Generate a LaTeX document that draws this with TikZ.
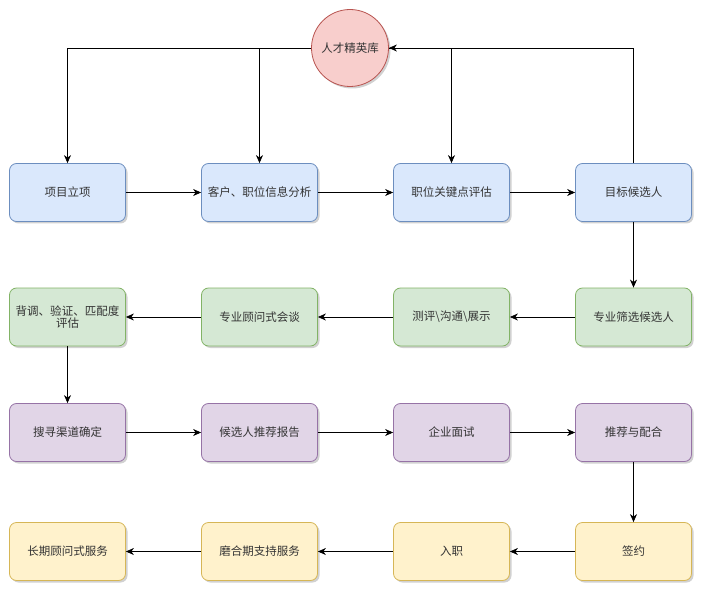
\documentclass[tikz,border=0pt]{standalone}
\usepackage{fontspec}
\setmainfont{Noto Sans CJK SC}
\usetikzlibrary{arrows.meta,shadows,positioning}
\definecolor{bfill}{HTML}{DAE8FC}\definecolor{bline}{HTML}{6C8EBF}
\definecolor{gfill}{HTML}{D5E8D4}\definecolor{gline}{HTML}{82B366}
\definecolor{pfill}{HTML}{E1D5E7}\definecolor{pline}{HTML}{9673A6}
\definecolor{yfill}{HTML}{FFF2CC}\definecolor{yline}{HTML}{D6B656}
\definecolor{rfill}{HTML}{F8CECC}\definecolor{rline}{HTML}{B85450}
\definecolor{txt}{HTML}{333333}
\tikzset{
  box/.style={rectangle, rounded corners=7pt, minimum width=116pt, minimum height=58pt,
    line width=0.8pt, align=center, text=txt, font=\fontsize{11.5}{14}\selectfont,
    drop shadow={shadow xshift=2pt, shadow yshift=-2pt, fill=black, opacity=0.18}},
  bluebox/.style={box, fill=bfill, draw=bline},
  greenbox/.style={box, fill=gfill, draw=gline},
  purplebox/.style={box, fill=pfill, draw=pline},
  yellowbox/.style={box, fill=yfill, draw=yline},
  conn/.style={line width=0.8pt, -{Stealth[length=8pt,width=7pt,inset=2.5pt]}},
  plain/.style={line width=0.8pt}
}
\begin{document}
\begin{tikzpicture}[x=1pt,y=-1pt]
\useasboundingbox (0,0) rectangle (703,593);
% nodes
\node[circle, minimum size=77pt, inner sep=0pt, fill=rfill, draw=rline, line width=0.8pt, text=txt,
  font=\fontsize{11.5}{14}\selectfont,
  drop shadow={shadow xshift=2pt, shadow yshift=-2pt, fill=black, opacity=0.18}] (db) at (350,48) {人才精英库};

\node[bluebox] (a1) at (67.5,192.5) {项目立项};
\node[bluebox] (a2) at (259.5,192.5) {客户、职位信息分析};
\node[bluebox] (a3) at (451.5,192.5) {职位关键点评估};
\node[bluebox] (a4) at (633.5,192.5) {目标候选人};

\node[greenbox] (b1) at (67.5,317) {背调、验证、匹配度\\[-2pt]评估};
\node[greenbox] (b2) at (259.5,317) {专业顾问式会谈};
\node[greenbox] (b3) at (451.5,317) {测评\textbackslash 沟通\textbackslash 展示};
\node[greenbox] (b4) at (633.5,317) {专业筛选候选人};

\node[purplebox] (c1) at (67.5,432.5) {搜寻渠道确定};
\node[purplebox] (c2) at (259.5,432.5) {候选人推荐报告};
\node[purplebox] (c3) at (451.5,432.5) {企业面试};
\node[purplebox] (c4) at (633.5,432.5) {推荐与配合};

\node[yellowbox] (d1) at (67.5,551.5) {长期顾问式服务};
\node[yellowbox] (d2) at (259.5,551.5) {磨合期支持服务};
\node[yellowbox] (d3) at (451.5,551.5) {入职};
\node[yellowbox] (d4) at (633.5,551.5) {签约};

% circle connections
\draw[conn] (db.west) -| (a1.north);
\draw[conn] (db.west) -| (a2.north);
\draw[conn] (db.east) -| (a3.north);
\draw[conn] (a4.north) |- (db.east);

% row 1
\draw[conn] (a1) -- (a2);
\draw[conn] (a2) -- (a3);
\draw[conn] (a3) -- (a4);
\draw[conn] (a4) -- (b4);
% row 2
\draw[conn] (b4) -- (b3);
\draw[conn] (b3) -- (b2);
\draw[conn] (b2) -- (b1);
\draw[conn] (b1) -- (c1);
% row 3
\draw[conn] (c1) -- (c2);
\draw[conn] (c2) -- (c3);
\draw[conn] (c3) -- (c4);
\draw[conn] (c4) -- (d4);
% row 4
\draw[conn] (d4) -- (d3);
\draw[conn] (d3) -- (d2);
\draw[conn] (d2) -- (d1);
\end{tikzpicture}
\end{document}
